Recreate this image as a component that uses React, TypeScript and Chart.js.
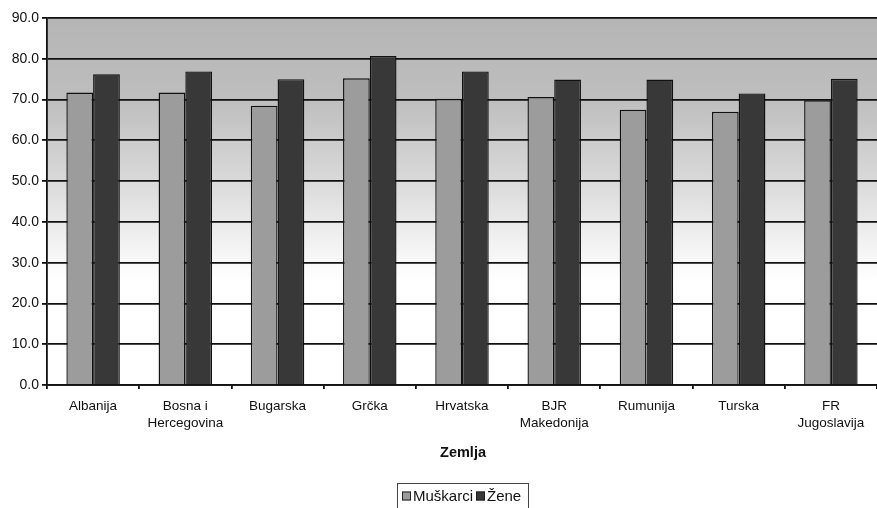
import React, { useEffect, useRef } from "react";
import { Chart, registerables } from "chart.js";

Chart.register(...registerables);

const categories: (string | string[])[] = [
  "Albanija",
  ["Bosna i", "Hercegovina"],
  "Bugarska",
  "Grčka",
  "Hrvatska",
  ["BJR", "Makedonija"],
  "Rumunija",
  "Turska",
  ["FR", "Jugoslavija"],
];
const muskarci = [71.7, 71.7, 68.5, 75.2, 70.2, 70.6, 67.5, 67.0, 69.8];
const zene = [76.2, 76.9, 75.0, 80.7, 76.9, 74.9, 74.9, 71.5, 75.1];
const seriesNames = ["Muškarci", "Žene"];
const axisTitle = "Zemlja";

const MEN_COLOR = "#9c9c9c";
const WOMEN_COLOR = "#383838";
const FONT = "'Liberation Sans', Arial, sans-serif";

const bgPlugin = {
  id: "bgGradient",
  beforeDraw(chart: any) {
    const { ctx, chartArea } = chart;
    if (!chartArea) return;
    const g = ctx.createLinearGradient(0, chartArea.top, 0, chartArea.bottom);
    g.addColorStop(0, "#b5b5b5");
    g.addColorStop(0.22, "#bebebe");
    g.addColorStop(0.42, "#d6d6d6");
    g.addColorStop(0.6, "#f0f0f0");
    g.addColorStop(0.72, "#ffffff");
    g.addColorStop(1, "#ffffff");
    ctx.save();
    ctx.fillStyle = g;
    ctx.fillRect(chartArea.left, chartArea.top, chartArea.right - chartArea.left, chartArea.bottom - chartArea.top);
    ctx.restore();
  },
  afterDraw(chart: any) {
    const { ctx, chartArea } = chart;
    ctx.save();
    // axis title
    ctx.fillStyle = "#111";
    ctx.font = `bold 14.5px ${FONT}`;
    ctx.textAlign = "center";
    ctx.textBaseline = "middle";
    ctx.fillText(axisTitle, (chartArea.left + chartArea.right) / 2 + 1, 453);
    // legend
    const lx = 397;
    const ly = 483;
    ctx.strokeStyle = "#444";
    ctx.lineWidth = 1;
    ctx.strokeRect(lx + 0.5, ly + 0.5, 131, 40);
    ctx.font = `15px ${FONT}`;
    ctx.textAlign = "left";
    const colors = [MEN_COLOR, WOMEN_COLOR];
    let x = lx + 5;
    const cy = 496;
    seriesNames.forEach((name, i) => {
      ctx.fillStyle = colors[i];
      ctx.fillRect(x, cy - 4.5, 9, 9);
      ctx.strokeStyle = "#222";
      ctx.strokeRect(x + 0.5, cy - 4, 8, 8);
      ctx.fillStyle = "#111";
      ctx.fillText(name, x + 11, cy + 1);
      x += 11 + ctx.measureText(name).width + 3;
    });
    ctx.restore();
  },
};

export default function App() {
  const ref = useRef<HTMLCanvasElement | null>(null);
  useEffect(() => {
    if (!ref.current) return;
    const chart = new Chart(ref.current, {
      type: "bar",
      data: {
        labels: categories,
        datasets: [
          {
            label: seriesNames[0],
            data: muskarci,
            backgroundColor: MEN_COLOR,
            borderColor: "#111",
            borderWidth: 1.4,
            categoryPercentage: 0.58,
            barPercentage: 1,
          },
          {
            label: seriesNames[1],
            data: zene,
            backgroundColor: WOMEN_COLOR,
            borderColor: "#111",
            borderWidth: 1.4,
            categoryPercentage: 0.58,
            barPercentage: 1,
          },
        ],
      },
      options: {
        animation: false,
        responsive: false,
        maintainAspectRatio: false,
        layout: { padding: { top: 18, right: 0, left: 0, bottom: 0 } },
        plugins: {
          legend: { display: false },
          tooltip: { enabled: false },
        },
        scales: {
          y: {
            min: 0,
            max: 90,
            afterFit(scale: any) {
              scale.width = 47;
            },
            ticks: {
              stepSize: 10,
              color: "#111",
              font: { family: FONT, size: 14 },
              padding: 3,
              callback: (v: any) => Number(v).toFixed(1),
            },
            grid: {
              color: "#111",
              lineWidth: 1.8,
              tickLength: 5,
            },
            border: { color: "#111", width: 1.8 },
          },
          x: {
            afterFit(scale: any) {
              scale.height = 508 - 385;
            },
            ticks: {
              color: "#111",
              font: { family: FONT, size: 13.5, lineHeight: 1.25 },
              padding: 9,
              maxRotation: 0,
              autoSkip: false,
            },
            grid: {
              offset: true,
              drawOnChartArea: false,
              color: "#111",
              tickLength: 4,
              lineWidth: 1.8,
            },
            border: { color: "#111", width: 1.8 },
          },
        },
      },
      plugins: [bgPlugin],
    });
    return () => chart.destroy();
  }, []);
  return (
    <div style={{ position: "fixed", left: 0, top: 0, width: 877, height: 508, background: "#fff" }}>
      <canvas ref={ref} width={877} height={508} style={{ width: 877, height: 508 }} />
    </div>
  );
}
